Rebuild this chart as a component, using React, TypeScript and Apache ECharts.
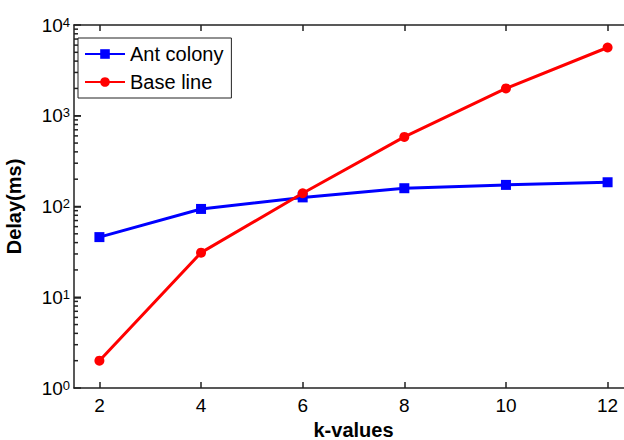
import React, { useEffect, useRef } from "react";
import * as echarts from "echarts";

const kValues = [2, 4, 6, 8, 10, 12];
const antColony = [46, 94, 126, 159, 173, 185];
const baseLine = [2, 31, 140, 585, 2000, 5650];
const xTicks = [2, 4, 6, 8, 10, 12];
const yTickValues = [
  2, 3, 4, 5, 6, 7, 8, 9, 10,
  20, 30, 40, 50, 60, 70, 80, 90, 100,
  200, 300, 400, 500, 600, 700, 800, 900, 1000,
  2000, 3000, 4000, 5000, 6000, 7000, 8000, 9000,
];

const FONT = "'Liberation Sans', Arial, sans-serif";
const X_MIN = 1.5;
const X_MAX = 12.5;
const AX = "#222";

export default function App() {
  const ref = useRef<HTMLDivElement>(null);
  useEffect(() => {
    if (!ref.current) return;
    const chart = echarts.init(ref.current, null, { renderer: "svg" });
    const axisLine = { show: true, lineStyle: { color: AX, width: 1.5 } };
    chart.setOption({
      animation: false,
      backgroundColor: "#fff",
      textStyle: { fontFamily: FONT },
      grid: { left: 74, top: 25, bottom: 52, right: 7, containLabel: false, outerBoundsMode: "none" },
      legend: {
        data: ["Ant colony", "Base line"],
        orient: "vertical",
        left: 78,
        top: 38,
        borderColor: AX,
        borderWidth: 1,
        padding: [6, 8, 6, 6],
        itemGap: 8,
        itemWidth: 40,
        itemHeight: 12,
        backgroundColor: "#fff",
        textStyle: { fontSize: 20, color: "#000", fontFamily: FONT },
      },
      xAxis: [
        {
          type: "value",
          min: X_MIN,
          max: X_MAX,
          position: "bottom",
          name: "k-values",
          nameLocation: "middle",
          nameGap: 24,
          nameTextStyle: { fontSize: 20, fontWeight: "bold", color: "#000", fontFamily: FONT },
          axisLine,
          axisTick: { show: true, inside: true, length: 6, customValues: xTicks, lineStyle: { color: AX, width: 1.5 } },
          axisLabel: { customValues: xTicks, fontSize: 19, color: "#000", margin: 8, fontFamily: FONT },
          splitLine: { show: false },
        },
        {
          type: "value",
          min: X_MIN,
          max: X_MAX,
          position: "top",
          axisLine,
          axisTick: { show: true, inside: true, length: 6, customValues: xTicks, lineStyle: { color: AX, width: 1.5 } },
          axisLabel: { show: false },
          splitLine: { show: false },
        },
      ],
      yAxis: {
        type: "log",
        logBase: 10,
        min: 1,
        max: 10000,
        name: "Delay(ms)",
        nameLocation: "middle",
        nameGap: 50,
        nameTextStyle: { fontSize: 20, fontWeight: "bold", color: "#000", fontFamily: FONT },
        axisLine,
        axisTick: { show: true, inside: true, length: 7, lineStyle: { color: AX, width: 1.5 } },
        axisLabel: {
          margin: 4,
          formatter: (v: number) => `{b|10}{s|${Math.round(Math.log10(v))}}`,
          rich: {
            b: { fontSize: 19, color: "#000", fontFamily: FONT, lineHeight: 19, padding: [6, 0, 6, 0], verticalAlign: "middle" },
            s: { fontSize: 13, color: "#000", fontFamily: FONT, lineHeight: 13, verticalAlign: "top" },
          },
        },
        splitLine: { show: false },
      },
      series: [
        {
          name: "Ant colony",
          type: "line",
          data: kValues.map((k, i) => [k, antColony[i]]),
          color: "#0000ff",
          lineStyle: { width: 3, color: "#0000ff" },
          symbol: "rect",
          symbolSize: 10,
          itemStyle: { color: "#0000ff" },
          z: 3,
        },
        {
          name: "Base line",
          type: "line",
          data: kValues.map((k, i) => [k, baseLine[i]]),
          color: "#ff0000",
          lineStyle: { width: 3, color: "#ff0000" },
          symbol: "circle",
          symbolSize: 10,
          itemStyle: { color: "#ff0000" },
          z: 4,
        },
        {
          name: "yTicks",
          type: "custom",
          coordinateSystem: "cartesian2d",
          xAxisIndex: 0,
          yAxisIndex: 0,
          silent: true,
          clip: false,
          data: yTickValues.map((v) => [X_MIN, v]),
          encode: { x: 0, y: 1 },
          renderItem: (params: any, api: any) => {
            const v = api.value(1);
            const lg = Math.log10(v);
            const major = Math.abs(lg - Math.round(lg)) < 1e-9;
            const p = api.coord([api.value(0), v]);
            return {
              type: "line",
              shape: { x1: p[0], y1: p[1], x2: p[0] + (major ? 7 : 4), y2: p[1] },
              style: { stroke: AX, lineWidth: 1.5 },
              z2: 10,
            };
          },
          z: 2,
        },
      ],
    });
    return () => chart.dispose();
  }, []);
  return (
    <div style={{ position: "fixed", left: 0, top: 0, width: 624, height: 440, overflow: "hidden", background: "#fff" }}>
      <div ref={ref} style={{ width: 640, height: 440 }} />
    </div>
  );
}
